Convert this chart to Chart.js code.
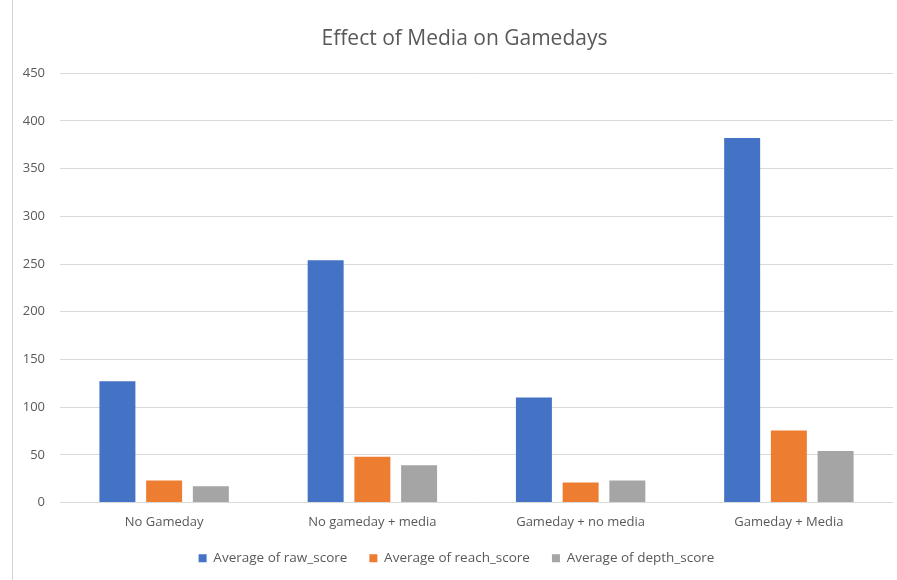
<!DOCTYPE html>
<html>
<head>
<meta charset="utf-8">
<script src="https://cdn.jsdelivr.net/npm/chart.js@4"></script>
<style>
html,body{margin:0;padding:0;background:#fff;}
#wrap{position:absolute;left:0;top:0;width:897px;height:580px;}
#edge{position:absolute;left:12px;top:0;width:1px;height:580px;background:#d4d4d4;}
</style>
</head>
<body>
<div id="wrap"><canvas id="c" width="897" height="580"></canvas></div>
<div id="edge"></div>
<script>
const categories = ["No Gameday", "No gameday + media", "Gameday + no media", "Gameday + Media"];
const rawScore = [127, 254, 110, 382];
const reachScore = [23, 48, 21, 75.5];
const depthScore = [17, 39, 23, 54];
const seriesNames = ["Average of raw_score", "Average of reach_score", "Average of depth_score"];
const yTicks = [0, 50, 100, 150, 200, 250, 300, 350, 400, 450];

const FONT = "'Open Sans', 'Liberation Sans', sans-serif";
const TXT = '#595959';

const shiftTitle = {
  id: 'shiftTitle',
  afterLayout(chart) {
    const t = chart.titleBlock;
    if (t) { t.left += 8; t.right += 8; }
  }
};

new Chart(document.getElementById('c'), {
  type: 'bar',
  data: {
    labels: categories,
    datasets: [
      {label: seriesNames[0], data: rawScore, backgroundColor: '#4472C4'},
      {label: seriesNames[1], data: reachScore, backgroundColor: '#ED7D31'},
      {label: seriesNames[2], data: depthScore, backgroundColor: '#A5A5A5'}
    ]
  },
  plugins: [shiftTitle],
  options: {
    responsive: false,
    animation: false,
    devicePixelRatio: 1,
    datasets: {bar: {categoryPercentage: 0.673, barPercentage: 0.77}},
    layout: {padding: {left: 20, right: 4, top: 18, bottom: 5}},
    plugins: {
      title: {
        display: true, text: 'Effect of Media on Gamedays', color: TXT,
        font: {family: FONT, size: 21, weight: 'normal'},
        padding: {top: 8, bottom: 22}
      },
      legend: {
        position: 'bottom',
        labels: {color: TXT, font: {family: FONT, size: 13.5}, boxWidth: 8, boxHeight: 8, padding: 22}
      },
      tooltip: {enabled: false}
    },
    scales: {
      x: {
        grid: {display: false},
        border: {display: false},
        afterFit: s => { s.height = 27; },
        ticks: {color: TXT, font: {family: FONT, size: 13}, padding: 4, maxRotation: 0}
      },
      y: {
        min: 0, max: 450,
        afterBuildTicks: s => { s.ticks = yTicks.map(v => ({value: v})); },
        afterFit: s => { s.width = 40; },
        grid: {color: '#d9d9d9', lineWidth: 1, drawTicks: false},
        border: {display: false},
        ticks: {color: TXT, font: {family: FONT, size: 13}, padding: 15}
      }
    }
  }
});
</script>
</body>
</html>
